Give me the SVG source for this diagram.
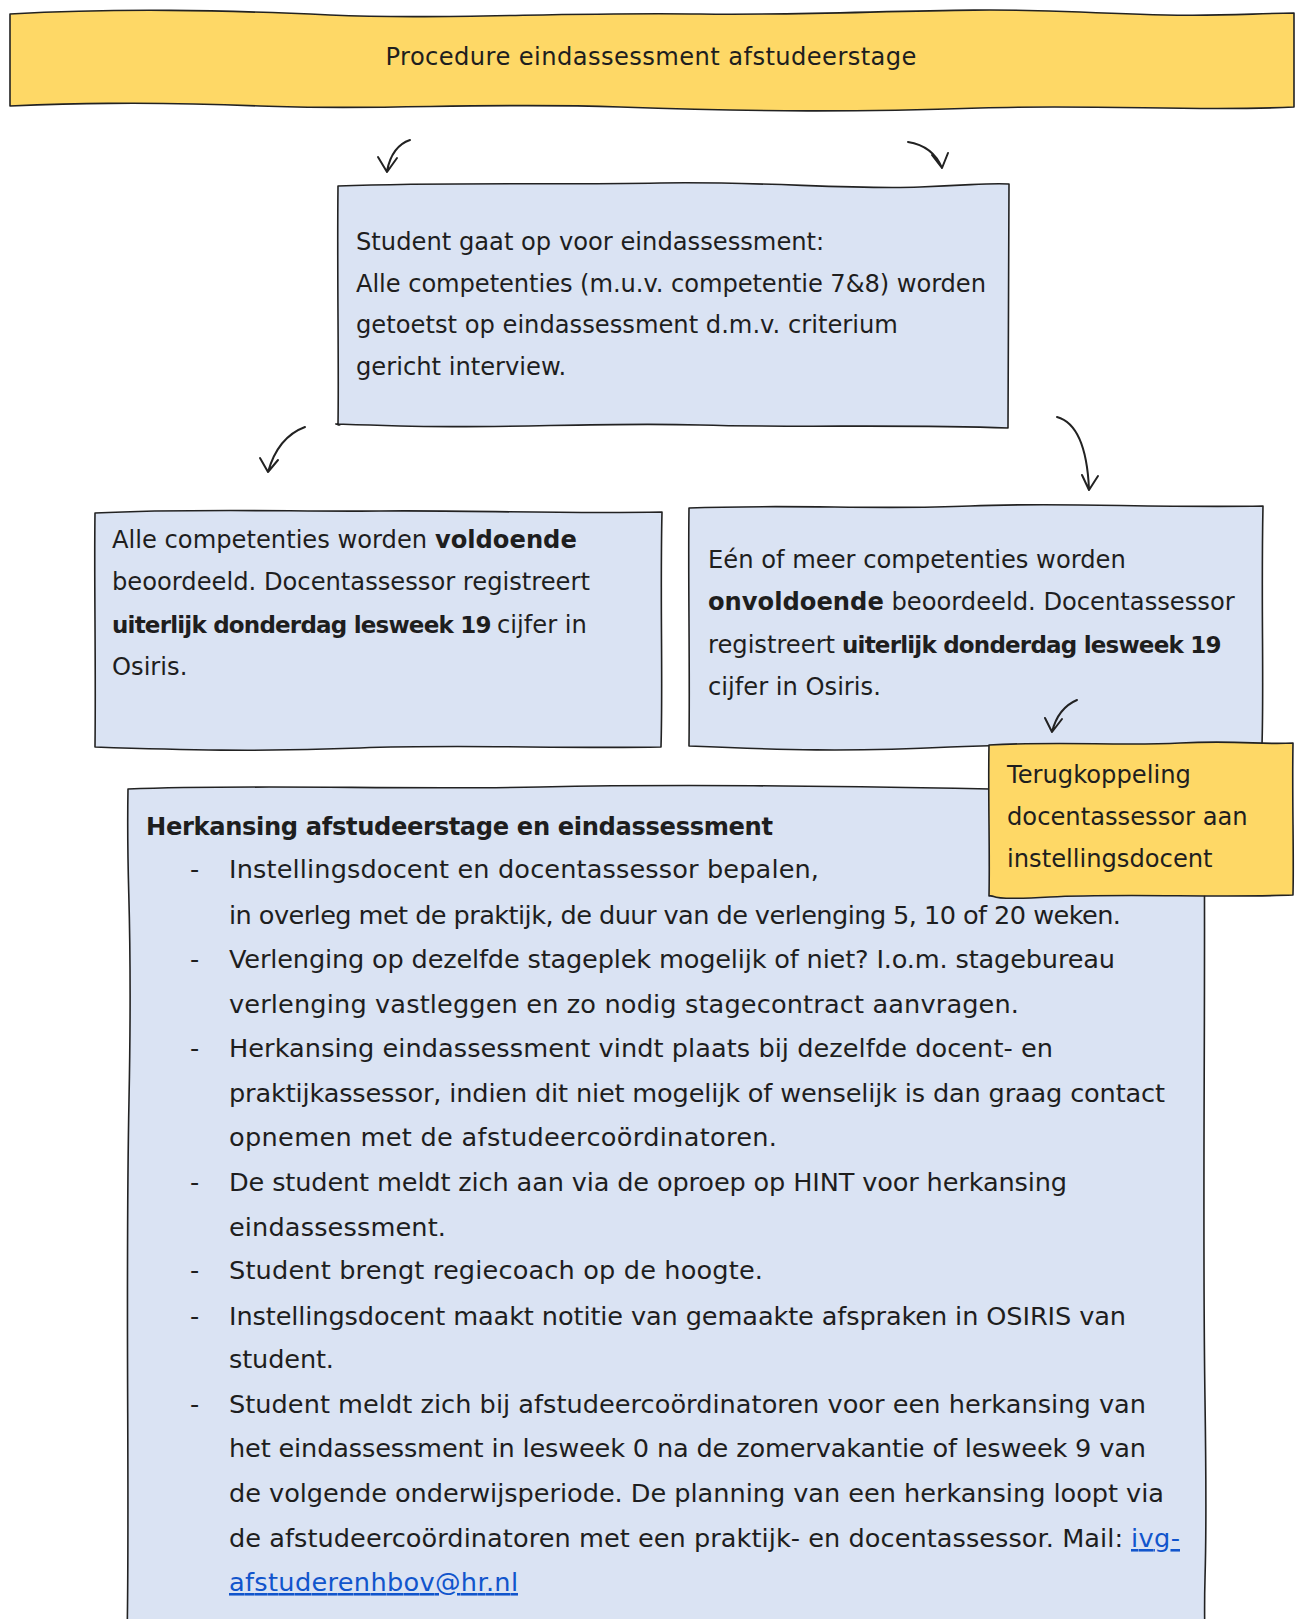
<svg xmlns="http://www.w3.org/2000/svg" width="1298" height="1619" viewBox="0 0 1298 1619">
<style>
.t{font-family:"DejaVu Sans","Liberation Sans",sans-serif;font-size:24.2px;fill:#1e1e1e}
.tb{font-size:25.6px}
.b{font-weight:bold}
.bc{font-weight:bold;font-size:23px;letter-spacing:-0.8px}
.yel{fill:#fed866;stroke:#222;stroke-width:1.6;stroke-linejoin:round}
.blu{fill:#dae3f3;stroke:#222;stroke-width:1.6;stroke-linejoin:round}
.arr{fill:none;stroke:#222;stroke-width:2;stroke-linecap:round;stroke-linejoin:round}
.lnk{fill:#1155cc;text-decoration:underline}
</style>
<rect width="1298" height="1619" fill="#ffffff"/>

<g id="title">
<path class="yel" d="M10,14 C120,8 220,10 330,15 S560,12 700,14 S950,6 1080,12 S1230,14 1294,13 L1294,107 C1200,112 1100,104 980,108 S760,112 620,107 S380,111 260,106 S60,104 10,106 Z"/>
<text class="t" x="651" y="65" text-anchor="middle" textLength="531">Procedure eindassessment afstudeerstage</text>
</g>

<g id="assessment">
<path class="blu" d="M338,186 C450,182 560,185 660,183 S850,190 920,187 S990,183 1009,184 L1008,428 C900,424 800,428 700,425 S500,429 400,426 S350,424 338,425 C339,360 337,280 338,186 Z"/>
<text class="t" x="356" y="250">Student gaat op voor eindassessment:</text>
<text class="t" x="356" y="292" textLength="630">Alle competenties (m.u.v. competentie 7&amp;8) worden</text>
<text class="t" x="356" y="333">getoetst op eindassessment d.m.v. criterium</text>
<text class="t" x="356" y="375">gericht interview.</text>
</g>

<g id="voldoende">
<path class="blu" d="M95,513 C200,508 300,512 380,511 S560,514 662,512 C660,600 663,680 661,747 C560,749 460,744 360,748 S180,750 95,747 C96,660 94,580 95,513 Z"/>
<text class="t" x="112" y="548">Alle competenties worden <tspan class="b">voldoende</tspan></text>
<text class="t" x="112" y="590">beoordeeld. Docentassessor registreert</text>
<text class="t bc" x="112" y="633">uiterlijk donderdag lesweek 19</text>
<text class="t" x="497" y="633">cijfer in</text>
<text class="t" x="112" y="675">Osiris.</text>
</g>

<g id="onvoldoende">
<path class="blu" d="M689,508 C790,504 880,510 970,506 S1150,508 1263,506 C1261,600 1264,680 1262,745 C1150,748 1050,742 950,747 S780,750 689,746 C690,660 688,580 689,508 Z"/>
<text class="t" x="708" y="568">Eén of meer competenties worden</text>
<text class="t" x="708" y="610"><tspan class="b">onvoldoende</tspan> beoordeeld. Docentassessor</text>
<text class="t" x="708" y="653">registreert</text>
<text class="t bc" x="842" y="653">uiterlijk donderdag lesweek 19</text>
<text class="t" x="708" y="695">cijfer in Osiris.</text>
</g>

<g id="herkansing">
<path class="blu" d="M128,789 C260,784 400,790 540,787 S820,786 990,789 L1204,788 C1206,1000 1202,1200 1205,1400 S1203,1560 1205,1640 L127,1640 C130,1500 125,1300 129,1100 S126,900 128,789 Z"/>
<text class="t b" x="146" y="835" textLength="627">Herkansing afstudeerstage en eindassessment</text>
<text class="t tb" x="190" y="878">-</text>
<text class="t tb" x="229" y="878" textLength="590">Instellingsdocent en docentassessor bepalen,</text>
<text class="t tb" x="229" y="924" textLength="892">in overleg met de praktijk, de duur van de verlenging 5, 10 of 20 weken.</text>
<text class="t tb" x="190" y="968">-</text>
<text class="t tb" x="229" y="968" textLength="886">Verlenging op dezelfde stageplek mogelijk of niet? I.o.m. stagebureau</text>
<text class="t tb" x="229" y="1013" textLength="790">verlenging vastleggen en zo nodig stagecontract aanvragen.</text>
<text class="t tb" x="190" y="1057">-</text>
<text class="t tb" x="229" y="1057" textLength="824">Herkansing eindassessment vindt plaats bij dezelfde docent- en</text>
<text class="t tb" x="229" y="1102" textLength="936">praktijkassessor, indien dit niet mogelijk of wenselijk is dan graag contact</text>
<text class="t tb" x="229" y="1146" textLength="548">opnemen met de afstudeercoördinatoren.</text>
<text class="t tb" x="190" y="1191">-</text>
<text class="t tb" x="229" y="1191" textLength="838">De student meldt zich aan via de oproep op HINT voor herkansing</text>
<text class="t tb" x="229" y="1236" textLength="217">eindassessment.</text>
<text class="t tb" x="190" y="1279">-</text>
<text class="t tb" x="229" y="1279" textLength="534">Student brengt regiecoach op de hoogte.</text>
<text class="t tb" x="190" y="1325">-</text>
<text class="t tb" x="229" y="1325" textLength="897">Instellingsdocent maakt notitie van gemaakte afspraken in OSIRIS van</text>
<text class="t tb" x="229" y="1368" textLength="105">student.</text>
<text class="t tb" x="190" y="1413">-</text>
<text class="t tb" x="229" y="1413" textLength="917">Student meldt zich bij afstudeercoördinatoren voor een herkansing van</text>
<text class="t tb" x="229" y="1457" textLength="917">het eindassessment in lesweek 0 na de zomervakantie of lesweek 9 van</text>
<text class="t tb" x="229" y="1502" textLength="935">de volgende onderwijsperiode. De planning van een herkansing loopt via</text>
<text class="t tb" x="229" y="1547" textLength="894">de afstudeercoördinatoren met een praktijk- en docentassessor. Mail:</text>
<text class="t tb lnk" x="1131" y="1547" textLength="49">ivg-</text>
<text class="t tb lnk" x="229" y="1591" textLength="289">afstuderenhbov@hr.nl</text>
</g>

<g id="terugkoppeling">
<path class="yel" d="M989,745 C1060,741 1120,746 1180,743 S1260,745 1293,743 C1292,800 1294,850 1293,895 C1220,898 1120,893 1050,897 S1000,895 989,896 C990,850 988,800 989,745 Z"/>
<text class="t" x="1007" y="783">Terugkoppeling</text>
<text class="t" x="1007" y="825">docentassessor aan</text>
<text class="t" x="1007" y="867">instellingsdocent</text>
</g>

<g id="connectors">
<path class="arr" d="M410,140 Q392,146 387,171 M378,157 L387,172 L397,158"/>
<path class="arr" d="M908,142 Q933,146 942,168 M932,155 L942,168 L948,153"/>
<path class="arr" d="M305,427 Q278,437 268,472 M260,458 L268,472 L278,460"/>
<path class="arr" d="M1057,417 Q1086,425 1089,489 M1082,475 L1089,490 L1098,476"/>
<path class="arr" d="M1077,700 Q1058,708 1052,732 M1045,718 L1052,732 L1062,719"/>
</g>
</svg>
